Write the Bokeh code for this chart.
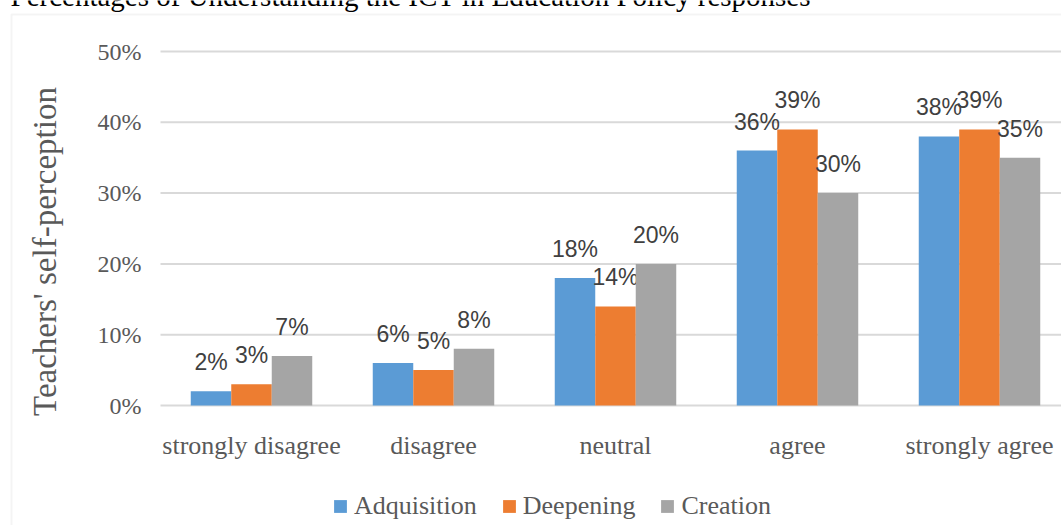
import math
from bokeh.plotting import figure
from bokeh.models import (Range1d, FixedTicker, NumeralTickFormatter, ColumnDataSource,
                          Label, Legend, LegendItem, BoxAnnotation)
from bokeh.core.properties import value
from bokeh.embed import file_html
from bokeh.resources import INLINE

title_text = "Percentages of Understanding the ICT in Education Policy responses"
y_label = "Teachers' self-perception"
categories = ["strongly disagree", "disagree", "neutral", "agree", "strongly agree"]
series_names = ["Adquisition", "Deepening", "Creation"]
adquisition = [0.02, 0.06, 0.18, 0.36, 0.38]
deepening = [0.03, 0.05, 0.14, 0.39, 0.39]
creation = [0.07, 0.08, 0.20, 0.30, 0.35]
y_ticks = [0, 0.1, 0.2, 0.3, 0.4, 0.5]

colors = ["#5b9bd5", "#ed7d31", "#a5a5a5"]
SERIF = "Liberation Serif"
SANS = "Liberation Sans"
BAR_W = 0.2225
offsets = [-BAR_W, 0.0, BAR_W]

W, H = 1061, 525
PX_X = 182.0     # pixels per category
PX_Y = 708.0     # pixels per 100%
X0_PX, Y0_PX = 251.0, 405.0   # canvas position of first category / 0%

x_range = Range1d(-X0_PX / PX_X, (W - X0_PX) / PX_X)
y_range = Range1d(-(H - Y0_PX) / PX_Y, Y0_PX / PX_Y)

p = figure(width=W, height=H, x_range=x_range, y_range=y_range,
           min_border_left=0, min_border_right=0, min_border_top=0, min_border_bottom=0,
           toolbar_location=None, output_backend="svg")
p.title.visible = False
p.outline_line_color = None
p.background_fill_color = "white"
p.border_fill_color = "white"
p.xgrid.grid_line_color = None
p.ygrid.grid_line_color = None

plot_left = -0.5
# horizontal gridlines over the plot area
p.segment(x0=[plot_left] * len(y_ticks), x1=[x_range.end] * len(y_ticks),
          y0=y_ticks, y1=y_ticks, line_color="#d9d9d9", line_width=2)

renderers = []
for name, vals, off, col in zip(series_names, [adquisition, deepening, creation], offsets, colors):
    xs = [i + off for i in range(len(categories))]
    src = ColumnDataSource(dict(x=xs, top=vals, label=[f"{round(v*100)}%" for v in vals]))
    r = p.vbar(x="x", top="top", width=BAR_W, source=src, fill_color=col, line_color=None)
    renderers.append(r)
    p.text(x="x", y="top", text="label", source=src, text_font=value(SANS),
           text_font_size="23px", text_color="#404040", text_align="center",
           text_baseline="alphabetic", y_offset=-29)

# axes drawn at fixed locations inside the canvas
p.yaxis.fixed_location = plot_left
p.yaxis.ticker = FixedTicker(ticks=y_ticks)
p.yaxis.formatter = NumeralTickFormatter(format="0%")
p.yaxis.major_label_text_font = SERIF
p.yaxis.major_label_text_font_size = "24px"
p.yaxis.major_label_text_color = "#595959"
p.yaxis.major_tick_in = 0
p.yaxis.major_tick_out = 0
p.yaxis.minor_tick_line_color = None
p.yaxis.axis_line_color = None
p.yaxis.major_label_standoff = 19

p.xaxis.fixed_location = 0
p.xaxis.ticker = FixedTicker(ticks=list(range(len(categories))))
p.xaxis.major_label_overrides = {i: c for i, c in enumerate(categories)}
p.xaxis.major_label_text_font = SERIF
p.xaxis.major_label_text_font_size = "26px"
p.xaxis.major_label_text_color = "#595959"
p.xaxis.major_tick_in = 0
p.xaxis.major_tick_out = 0
p.xaxis.minor_tick_line_color = None
p.xaxis.axis_line_color = None
p.xaxis.major_label_standoff = 25

# chart box border (screen units: px from frame bottom-left, y up)
p.add_layout(BoxAnnotation(left=11, right=W + 200, top=H - 14, bottom=-200,
                           left_units="screen", right_units="screen",
                           top_units="screen", bottom_units="screen",
                           fill_color=None, line_color="#d9d9d9", line_width=2))

# title (cut off at top, like the reference)
p.add_layout(Label(x=10, y=H + 4.5, x_units="screen", y_units="screen", text=title_text,
                   text_font=SERIF, text_font_size="29px", text_color="black",
                   text_baseline="alphabetic", text_align="left"))

# y axis title
p.add_layout(Label(x=44, y=H - 251, x_units="screen", y_units="screen", text=y_label,
                   angle=math.pi / 2, text_font=SERIF, text_font_size="33px",
                   text_color="#595959", text_align="center", text_baseline="middle"))

legend = Legend(items=[LegendItem(label=n, renderers=[r]) for n, r in zip(series_names, renderers)],
                orientation="horizontal", location=(332, 4), glyph_width=16, glyph_height=16,
                label_text_font=SERIF, label_text_font_size="26px", label_text_color="#595959",
                spacing=24, padding=0, margin=0, border_line_color=None,
                background_fill_alpha=0, label_standoff=6)
p.add_layout(legend)

open("out.html", "w").write(file_html(p, INLINE))
